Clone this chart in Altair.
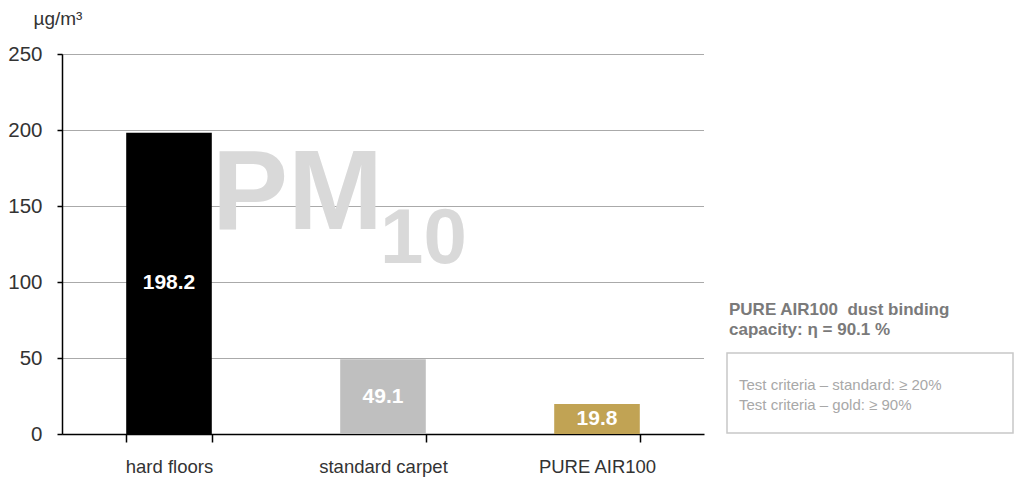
import altair as alt
import pandas as pd

categories = ["hard floors", "standard carpet", "PURE AIR100"]
values = [198.2, 49.1, 19.8]
colors = ["#000000", "#bfbfbf", "#c1a354"]
y_ticks = [0, 50, 100, 150, 200, 250]
unit = "µg/m³"
headline = ["PURE AIR100\u00a0 dust binding", "capacity: η = 90.1 %"]
criteria = ["Test criteria – standard: ≥ 20%", "Test criteria – gold: ≥ 90%"]

FONT = "Liberation Sans, Arial, sans-serif"

df = pd.DataFrame({"cat": categories, "val": values, "color": colors})

x = alt.X("cat:N", sort=categories, title=None,
          scale=alt.Scale(paddingInner=0.6, paddingOuter=0.3),
          axis=alt.Axis(labelAngle=0, tickBand="extent", tickSize=8, tickColor="#000",
                        tickWidth=1.5, domainColor="#000", domainWidth=1.5,
                        labelFontSize=18.5, labelColor="#333", labelPadding=15,
                        labelFont=FONT, grid=False))
y = alt.Y("val:Q", title=unit,
          scale=alt.Scale(domain=[0, 250], nice=False),
          axis=alt.Axis(values=y_ticks, tickSize=5, tickColor="#000", tickWidth=1.5,
                        domainColor="#000", domainWidth=1.5,
                        labelFontSize=20.5, labelColor="#333", labelPadding=15,
                        labelFont=FONT, grid=True, gridColor="#555", gridDash=[1, 1],
                        gridWidth=1, titleAngle=0, titleAlign="left", titleX=-29,
                        titleY=-30, titleBaseline="alphabetic", titleFontSize=19,
                        titleFontWeight="normal", titleColor="#333", titleFont=FONT))

base = alt.Chart(df)

pm = alt.Chart(pd.DataFrame({"t": ["PM"]})).mark_text(
    align="left", baseline="alphabetic", fontSize=114, fontWeight="bold",
    color="#d9d9d9", font=FONT).encode(text="t:N", x=alt.value(150), y=alt.value(175))
pm10 = alt.Chart(pd.DataFrame({"t": ["10"]})).mark_text(
    align="left", baseline="alphabetic", fontSize=78, fontWeight="bold",
    color="#d9d9d9", font=FONT).encode(text="t:N", x=alt.value(318), y=alt.value(209))

bars = base.mark_bar().encode(x=x, y=y, color=alt.Color("color:N", scale=None))

labels = base.transform_calculate(mid="datum.val / 2").mark_text(
    color="white", fontSize=21, fontWeight="bold", baseline="middle", font=FONT
).encode(x=alt.X("cat:N", sort=categories), y=alt.Y("mid:Q"), text=alt.Text("val:Q", format=".1f"))

h1 = alt.Chart(pd.DataFrame({"t": [headline[0]]})).mark_text(
    align="left", baseline="alphabetic", fontSize=17, fontWeight="bold", color="#7a7a7a",
    font=FONT).encode(text="t:N", x=alt.value(667), y=alt.value(261))
h2 = alt.Chart(pd.DataFrame({"t": [headline[1]]})).mark_text(
    align="left", baseline="alphabetic", fontSize=17, fontWeight="bold", color="#7a7a7a",
    font=FONT).encode(text="t:N", x=alt.value(667), y=alt.value(281))

box = alt.Chart(pd.DataFrame({"t": ["box"]})).mark_rect(
    fill="white", stroke="#c8c8c8", strokeWidth=1.5).encode(
    x=alt.value(665), x2=alt.value(951), y=alt.value(299), y2=alt.value(379))

c1 = alt.Chart(pd.DataFrame({"t": [criteria[0]]})).mark_text(
    align="left", baseline="alphabetic", fontSize=15, color="#a8a8a8",
    font=FONT).encode(text="t:N", x=alt.value(677), y=alt.value(336))
c2 = alt.Chart(pd.DataFrame({"t": [criteria[1]]})).mark_text(
    align="left", baseline="alphabetic", fontSize=15, color="#a8a8a8",
    font=FONT).encode(text="t:N", x=alt.value(677), y=alt.value(356))

chart = alt.layer(pm, pm10, bars, labels, h1, h2, box, c1, c2).properties(
    width=642, height=380, autosize="none",
    padding={"left": 54, "top": 46, "right": 311, "bottom": 46}
).configure(font=FONT).configure_view(stroke="transparent", strokeWidth=0)

chart.save("out.html", embed_options={"renderer": "svg", "actions": False})
